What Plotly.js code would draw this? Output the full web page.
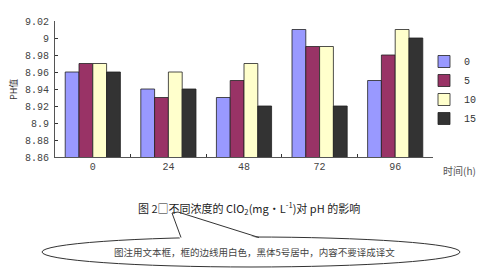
<!DOCTYPE html>
<html><head><meta charset="utf-8">
<script src="https://cdn.plot.ly/plotly-3.0.1.min.js"></script>
<style>html,body{margin:0;padding:0;background:#fff;}#chart{width:479px;height:271px;}</style>
</head><body><div id="chart"></div>
<script>
const categories = ['0', '24', '48', '72', '96'];
const seriesNames = ['0', '5', '10', '15'];
const s0 = [8.96, 8.94, 8.93, 9.01, 8.95];
const s5 = [8.97, 8.93, 8.95, 8.99, 8.98];
const s10 = [8.97, 8.96, 8.97, 8.99, 9.01];
const s15 = [8.96, 8.94, 8.92, 8.92, 9.00];
const yTicks = [8.86, 8.88, 8.9, 8.92, 8.94, 8.96, 8.98, 9, 9.02];
const yTickText = ['8.86', '8.88', '8.9', '8.92', '8.94', '8.96', '8.98', '9', '9.02'];

const colors = ['#9999FF', '#993366', '#FFFFCC', '#333333'];
const seriesVals = [s0, s5, s10, s15];
const traces = seriesVals.map((v, i) => ({
  type: 'bar', x: categories, y: v, name: seriesNames[i],
  marker: {color: colors[i], line: {color: '#222', width: 0.8}}
}));

const L = 55, R = 433, T = 21, B = 157;
const px = x => (x - L) / (R - L);
const py = y => (B - y) / (B - T);

const monoFont = {family: 'Liberation Mono, DejaVu Sans Mono, monospace', size: 10, color: '#444'};
const ann = (text, x, y, font, extra) => Object.assign({text, xref: 'paper', yref: 'paper',
  x: px(x), y: py(y), xanchor: 'center', yanchor: 'middle', showarrow: false, font}, extra || {});
const layout = {
  width: 479, height: 271,
  margin: {l: L, r: 479 - R, t: T, b: 271 - B, pad: 0, autoexpand: false},
  paper_bgcolor: '#fff', plot_bgcolor: '#fff',
  barmode: 'group', bargap: 0.27, bargroupgap: 0,
  showlegend: true,
  legend: {x: px(424), y: py(47), xanchor: 'left', yanchor: 'top',
           font: {family: 'Liberation Mono, monospace', size: 10, color: '#333'},
           tracegroupgap: 0, itemwidth: 30, bgcolor: 'rgba(0,0,0,0)'},
  xaxis: {type: 'category', showgrid: false, zeroline: false,
          showline: true, linecolor: '#555', linewidth: 1,
          ticks: 'inside', ticklen: 3, tickcolor: '#333', tickson: 'boundaries',
          tickfont: monoFont, fixedrange: true, automargin: false},
  yaxis: {range: [8.86, 9.02], showgrid: false, zeroline: false,
          showline: true, linecolor: '#555', linewidth: 1,
          ticks: 'inside', ticklen: 3, tickcolor: '#333',
          tickmode: 'array', tickvals: yTicks, ticktext: yTickText,
          tickfont: monoFont, ticklabelstandoff: 3, fixedrange: true, automargin: false},
  annotations: [
    ann('PH值', 13, 90, {family: 'Noto Sans CJK SC', size: 9, color: '#333'}, {textangle: -90}),
    ann('时间(h)', 459, 170, {family: 'Noto Sans CJK SC', size: 10, color: '#555'}),
    ann('图 2□不同浓度的 ClO<sub>2</sub>(mg・L<sup>-1</sup>)对 pH 的影响', 249, 208,
        {family: 'Noto Sans CJK SC', size: 11, color: '#222'}),
    ann('图注用文本框，框的边线用白色，黑体5号居中，内容不要译成译文', 254, 252,
        {family: 'Noto Sans CJK SC', size: 9.5, color: '#444'})
  ],
  shapes: [
    {type: 'circle', xref: 'paper', yref: 'paper', x0: px(42), x1: px(460), y0: py(237), y1: py(267),
     line: {color: '#333', width: 1}, fillcolor: 'rgba(0,0,0,0)'},
    {type: 'path', xref: 'paper', yref: 'paper',
     path: `M ${px(180)} ${py(239)} L ${px(172)} ${py(213)} L ${px(178)} ${py(212)} L ${px(260)} ${py(239)} Z`,
     fillcolor: '#fff', line: {width: 0}},
    {type: 'path', xref: 'paper', yref: 'paper',
     path: `M ${px(181)} ${py(237.5)} L ${px(172)} ${py(213)} L ${px(178)} ${py(212)} L ${px(259)} ${py(237.5)}`,
     line: {color: '#333', width: 1}}
  ]
};
Plotly.newPlot('chart', traces, layout, {staticPlot: true, displayModeBar: false});
</script></body></html>
